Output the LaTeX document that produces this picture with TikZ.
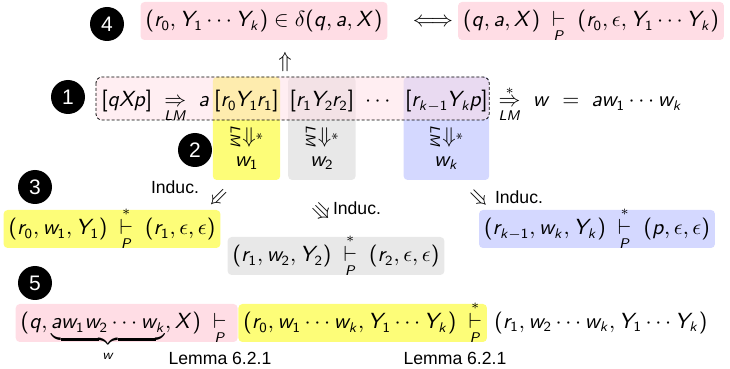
\documentclass[tikz,border=0pt]{standalone}
\usepackage{amsmath,amssymb}
\usepackage[no-math]{fontspec}
\setmainfont{Liberation Sans}
\usetikzlibrary{positioning,backgrounds}

% sans math letters, as on the slide
\DeclareSymbolFont{sfletters}{OT1}{cmss}{m}{sl}
\SetSymbolFont{operators}{normal}{OT1}{cmss}{m}{n}
\DeclareMathSymbol{a}{\mathalpha}{sfletters}{`a}
\DeclareMathSymbol{k}{\mathalpha}{sfletters}{`k}
\DeclareMathSymbol{p}{\mathalpha}{sfletters}{`p}
\DeclareMathSymbol{q}{\mathalpha}{sfletters}{`q}
\DeclareMathSymbol{r}{\mathalpha}{sfletters}{`r}
\DeclareMathSymbol{w}{\mathalpha}{sfletters}{`w}
\DeclareMathSymbol{L}{\mathalpha}{sfletters}{`L}
\DeclareMathSymbol{M}{\mathalpha}{sfletters}{`M}
\DeclareMathSymbol{P}{\mathalpha}{sfletters}{`P}
\DeclareMathSymbol{X}{\mathalpha}{sfletters}{`X}
\DeclareMathSymbol{Y}{\mathalpha}{sfletters}{`Y}

\definecolor{boxpink}{RGB}{255,221,229}
\definecolor{boxyellow}{RGB}{253,253,120}
\definecolor{boxgray}{RGB}{232,232,232}
\definecolor{boxblue}{RGB}{212,216,255}

\newcommand{\lmone}{\underset{LM}{\Rightarrow}}
\newcommand{\lmstep}{\overset{*}{\underset{LM}{\Rightarrow}}}
\newcommand{\pone}{\underset{P}{\vdash}}
\newcommand{\pstar}{\overset{*}{\underset{P}{\vdash}}}
\newcommand{\tk}{\mkern-1.2mu}

\begin{document}
\begin{tikzpicture}[x=0.5pt,y=-0.5pt,
    every node/.style={font=\fontsize{10.5}{12.5}\selectfont},
    numdot/.style={circle,fill=black,text=white,inner sep=0pt,minimum size=17pt,font=\fontsize{10.5}{12}\selectfont},
    note/.style={font=\fontsize{8.8}{10}\selectfont},
    slot/.style={inner xsep=0.5pt,inner ysep=0pt,anchor=base west},
    hbox/.style={rounded corners=2pt,inner xsep=2.5pt,inner ysep=0.5pt,text height=12pt,text depth=6pt},
    pinkbox/.style={hbox,fill=boxpink},
    yellowbox/.style={hbox,fill=boxyellow},
    graybox/.style={hbox,fill=boxgray},
    bluebox/.style={hbox,fill=boxblue}]
    \useasboundingbox (0,0) rectangle (730,369);
    % step numbers
    \foreach \n/\x/\y in {4/107/24,1/68/97,2/195/150,3/35/187,5/35/283}
        \node[numdot] (c\n) at (\x,\y) {\n};
    % step 4
    \node[pinkbox] (delta) at (264,21) {$(r_0,Y_1\cdots Y_k)\in\delta(q,a,X)$};
    \node (iff) at (433,22) {$\Longleftrightarrow$};
    \node[pinkbox] (move) at (591,21) {$(q,a,X)\;\pone\;(r_0,\epsilon,Y_1\cdots Y_k)$};
    \node (up) at (285,62) {$\Uparrow$};
    % step 1: the derivation
    \node[slot] (lhs) at (100,107) {$[qXp]\;\lmone\;a$};
    \node[slot,xshift=1pt] (v1) at (lhs.base east) {$[r_0\tk Y_1\tk r_1]$};
    \node[slot,xshift=4pt] (v2) at (v1.base east) {$[r_1\tk Y_2\tk r_2]$};
    \node[slot,xshift=4pt] (vd) at (v2.base east) {$\cdots$};
    \node[slot,xshift=4pt] (vk) at (vd.base east) {$[r_{k-1}\tk Y_k\tk p]$};
    \node[slot,xshift=4pt] (rhs) at (vk.base east) {$\lmstep\; w\;=\;aw_1\cdots w_k$};
    % step 2: the columns
    \foreach \v/\i in {v1/1,v2/2,vk/k} {
        \node[rotate=-90] (d\i) at (\v |- 0,137) {$\lmstep$};
        \node (w\i) at (\v |- 0,163) {$w_\i$};
    }
    \begin{scope}[on background layer]
        \fill[boxyellow,rounded corners=2pt] (v1.west |- 0,77) rectangle (v1.east |- 0,180);
        \fill[boxgray,rounded corners=2pt] (v2.west |- 0,77) rectangle (v2.east |- 0,180);
        \fill[boxblue,rounded corners=2pt] (vk.west |- 0,77) rectangle (vk.east |- 0,180);
        \draw[dash pattern=on 1.5pt off 1pt,rounded corners=3pt,fill=boxpink,fill opacity=.5]
            (lhs.west |- 0,77) ++(-4,0) rectangle (vk.east |- 0,120);
    \end{scope}
    % step 3: induction
    \node[note] (ind1) at (175,187) {Induc.};
    \node[rotate=45] (a1) at (219,199) {$\Leftarrow$};
    \node[yellowbox] (run1) at (112,229) {$(r_0,w_1,Y_1)\;\pstar\;(r_1,\epsilon,\epsilon)$};
    \node[rotate=-45] (a2) at (322,212) {$\Rrightarrow$};
    \node[note] (ind2) at (357,208) {Induc.};
    \node[graybox] (run2) at (336,256) {$(r_1,w_2,Y_2)\;\pstar\;(r_2,\epsilon,\epsilon)$};
    \node[rotate=-45] (a3) at (478,199) {$\Rightarrow$};
    \node[note] (ind3) at (519,197) {Induc.};
    \node[bluebox] (runk) at (597,229) {$(r_{k-1},w_k,Y_k)\;\pstar\;(p,\epsilon,\epsilon)$};
    % step 5: the whole run
    \node[pinkbox,anchor=east] (s5) at (238,323) {$(q,\underbrace{aw_1w_2\cdots w_k}_{w},X)\;\pone\;$};
    \node[yellowbox,anchor=west] (y5) at (s5.east) {$(r_0,w_1\cdots w_k,Y_1\cdots Y_k)\;\pstar$};
    \node[anchor=west] (t5) at (y5.east) {$(r_1,w_2\cdots w_k,Y_1\cdots Y_k)$};
    \node[note] (lem1) at (220,358) {Lemma 6.2.1};
    \node[note] (lem2) at (455,358) {Lemma 6.2.1};
\end{tikzpicture}
\end{document}
